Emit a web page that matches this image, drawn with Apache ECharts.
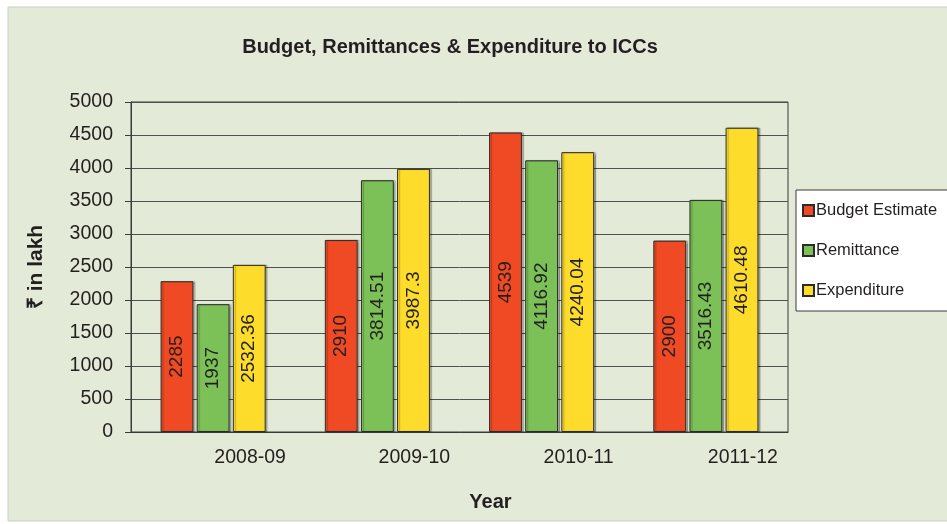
<!DOCTYPE html>
<html><head><meta charset="utf-8">
<script src="https://cdn.jsdelivr.net/npm/echarts@6/dist/echarts.min.js"></script>
<style>html,body{margin:0;padding:0;background:#fff}#c{width:947px;height:524px}</style>
</head><body><div id="c"></div>
<script>
const categories = ['2008-09', '2009-10', '2010-11', '2011-12'];
const budgetEstimate = [2285, 2910, 4539, 2900];
const remittance = [1937, 3814.51, 4116.92, 3516.43];
const expenditure = [2532.36, 3987.3, 4240.04, 4610.48];
const seriesNames = ['Budget Estimate', 'Remittance', 'Expenditure'];
const yTicks = { min: 0, max: 5000, interval: 500 };

const colors = ['#ef4a24', '#7cc157', '#fedc2b'];
const font = 'Liberation Sans, Arial, sans-serif';
const chart = echarts.init(document.getElementById('c'));
function mk(name, data, color) {
  return {
    name, type: 'bar', data,
    barGap: '10%', barCategoryGap: '36%',
    itemStyle: { color, borderColor: '#2b2b2b', borderWidth: 1,
      shadowColor: 'rgba(0,0,0,0.25)', shadowOffsetX: 2, shadowOffsetY: 0, shadowBlur: 1 },
    label: { show: true, position: 'inside', rotate: 90, color: '#231f20',
      fontFamily: font, fontSize: 19, formatter: p => String(p.value) }
  };
}
chart.setOption({
  animation: false,
  backgroundColor: '#ffffff',
  graphic: [{ type: 'rect', z: -10, shape: { x: 8, y: 7, width: 945, height: 514 },
    style: { fill: '#e3ead7', stroke: '#c9cfbf', lineWidth: 1 } }],
  title: { text: 'Budget, Remittances & Expenditure to ICCs', left: 445, textAlign: 'center', top: 32,
    textStyle: { fontFamily: font, fontSize: 20, fontWeight: 'bold', color: '#231f20' } },
  legend: {
    orient: 'vertical', left: 796, top: 190, width: 160,
    backgroundColor: '#ffffff', borderColor: '#3a3a3a', borderWidth: 1,
    padding: [12, 14, 12, 6], itemGap: 23, itemWidth: 11, itemHeight: 11, icon: 'rect',
    textStyle: { fontFamily: font, fontSize: 16.5, color: '#231f20', padding: [0, 0, 0, -3] },
    data: seriesNames
  },
  grid: { left: 131, right: 159, top: 102, bottom: 92, show: true, borderColor: '#3a3a3a', borderWidth: 1 },
  xAxis: {
    type: 'category', data: categories,
    name: 'Year', nameLocation: 'middle', nameGap: 60,
    nameTextStyle: { fontFamily: font, fontSize: 20, fontWeight: 'bold', color: '#231f20', padding: [0, 0, 0, 62] },
    axisLine: { lineStyle: { color: '#3a3a3a' } }, axisTick: { show: false },
    axisLabel: { fontFamily: font, fontSize: 19.5, color: '#231f20', margin: 16, padding: [0, 0, 0, 74] }
  },
  yAxis: {
    type: 'value', min: yTicks.min, max: yTicks.max, interval: yTicks.interval,
    name: '₹ in lakh', nameLocation: 'middle', nameGap: 84, nameRotate: 90,
    nameTextStyle: { fontFamily: font, fontSize: 21, fontWeight: 'bold', color: '#231f20' },
    axisLine: { show: true, lineStyle: { color: '#3a3a3a' } },
    axisTick: { show: true, length: 6, lineStyle: { color: '#3a3a3a' } },
    splitLine: { lineStyle: { color: '#505050' } },
    axisLabel: { fontFamily: font, fontSize: 19.5, color: '#231f20', margin: 18, formatter: v => String(v) }
  },
  series: [mk(seriesNames[0], budgetEstimate, colors[0]), mk(seriesNames[1], remittance, colors[1]), mk(seriesNames[2], expenditure, colors[2])]
});
</script></body></html>
